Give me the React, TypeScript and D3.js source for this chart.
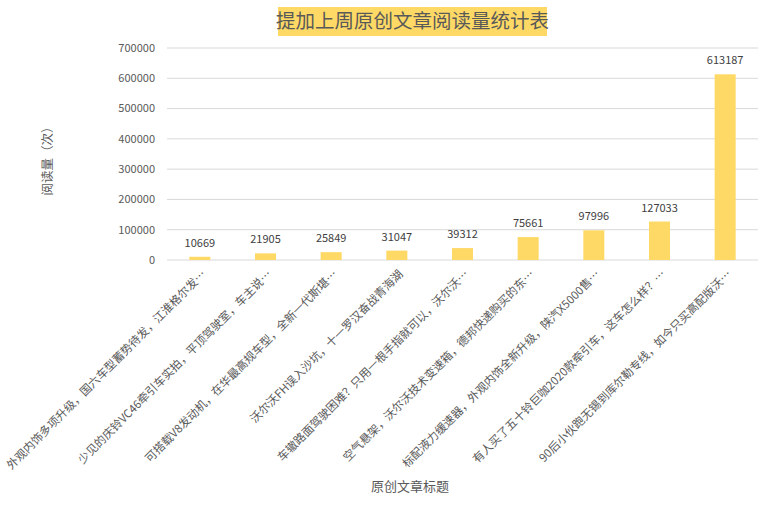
import React, { useRef, useEffect } from 'react';
import * as d3 from 'd3';

const titles = [
  '外观内饰多项升级，国六车型蓄势待发，江淮格尔发…',
  '少见的庆铃VC46牵引车实拍，平顶驾驶室，车主说…',
  '可搭载V8发动机，在华最高规车型，全新一代斯堪…',
  '沃尔沃FH误入沙坑，十一罗汉奋战青海湖',
  '车辙路面驾驶困难？只用一根手指就可以，沃尔沃…',
  '空气悬架，沃尔沃技术变速箱，德邦快递购买的东…',
  '标配液力缓速器，外观内饰全新升级，陕汽X5000售…',
  '有人买了五十铃巨咖2020款牵引车，这车怎么样？…',
  '90后小伙跑无锡到库尔勒专线，如今只买高配版沃…',
];
const reads = [10669, 21905, 25849, 31047, 39312, 75661, 97996, 127033, 613187];
const yTicks = [0, 100000, 200000, 300000, 400000, 500000, 600000, 700000];

const chartTitle = '提加上周原创文章阅读量统计表';
const yTitle = '阅读量（次）';
const xTitle = '原创文章标题';

const width = 770;
const height = 509;
const FONT = '"Noto Sans CJK SC", "Noto Sans", sans-serif';

export default function App() {
  const svgRef = useRef<SVGSVGElement>(null);

  useEffect(() => {
    if (!svgRef.current) return;
    const svg = d3.select(svgRef.current);
    svg.selectAll('*').remove();

    const margin = { top: 48, right: 12, bottom: 249, left: 167 };
    const innerWidth = width - margin.left - margin.right;
    const innerHeight = height - margin.top - margin.bottom;

    const g = svg.append('g').attr('transform', `translate(${margin.left}, ${margin.top})`);

    const x = d3.scaleBand<number>()
      .domain(d3.range(titles.length))
      .range([0, innerWidth])
      .paddingInner(0.68)
      .paddingOuter(0.34);

    const y = d3.scaleLinear().domain([0, 700000]).range([innerHeight, 0]);

    // gridlines
    g.selectAll('.grid')
      .data(yTicks)
      .enter()
      .append('line')
      .attr('x1', 0)
      .attr('x2', innerWidth)
      .attr('y1', d => y(d))
      .attr('y2', d => y(d))
      .attr('stroke', '#d9d9d9')
      .attr('stroke-width', 1);

    // y tick labels
    g.selectAll('.ytick')
      .data(yTicks)
      .enter()
      .append('text')
      .attr('x', -12)
      .attr('y', d => y(d))
      .attr('dy', '0.35em')
      .attr('text-anchor', 'end')
      .attr('font-size', '11px')
      .attr('fill', '#595959')
      .text(d => d);

    // bars
    g.selectAll('.bar')
      .data(reads)
      .enter()
      .append('rect')
      .attr('x', (_, i) => x(i)!)
      .attr('y', d => y(d))
      .attr('width', x.bandwidth())
      .attr('height', d => innerHeight - y(d))
      .attr('fill', '#ffd966');

    // value labels
    g.selectAll('.val')
      .data(reads)
      .enter()
      .append('text')
      .attr('x', (_, i) => x(i)! + x.bandwidth() / 2)
      .attr('y', d => y(d) - 10)
      .attr('text-anchor', 'middle')
      .attr('font-size', '11px')
      .attr('fill', '#404040')
      .text(d => d);

    // category labels
    g.selectAll('.cat')
      .data(titles)
      .enter()
      .append('text')
      .attr('text-anchor', 'end')
      .attr('font-size', '11.5px')
      .attr('fill', '#595959')
      .attr('transform', (_, i) => {
        const cx = x(i)! + x.bandwidth() / 2 + 4;
        return `translate(${cx}, ${innerHeight + 12}) rotate(-45)`;
      })
      .attr('dy', '0.35em')
      .text(d => d);

    // title box
    const tb = svg.append('g');
    tb.append('rect')
      .attr('x', 278)
      .attr('y', 7)
      .attr('width', 269)
      .attr('height', 29)
      .attr('fill', '#ffd966');
    tb.append('text')
      .attr('x', 412.5)
      .attr('y', 21.5)
      .attr('dy', '0.35em')
      .attr('text-anchor', 'middle')
      .attr('font-size', '19.5px')
      .attr('fill', '#595959')
      .text(chartTitle);

    // axis titles
    svg.append('text')
      .attr('transform', `translate(48, ${margin.top + 110}) rotate(-90)`)
      .attr('text-anchor', 'middle')
      .attr('dy', '0.35em')
      .attr('font-size', '12.5px')
      .attr('fill', '#595959')
      .text(yTitle);

    svg.append('text')
      .attr('x', 410)
      .attr('y', 486)
      .attr('dy', '0.35em')
      .attr('text-anchor', 'middle')
      .attr('font-size', '13px')
      .attr('fill', '#595959')
      .text(xTitle);
  }, []);

  return (
    <svg
      ref={svgRef}
      width={width}
      height={height}
      style={{ position: 'absolute', left: 0, top: 0, background: '#fff', fontFamily: FONT }}
    />
  );
}
